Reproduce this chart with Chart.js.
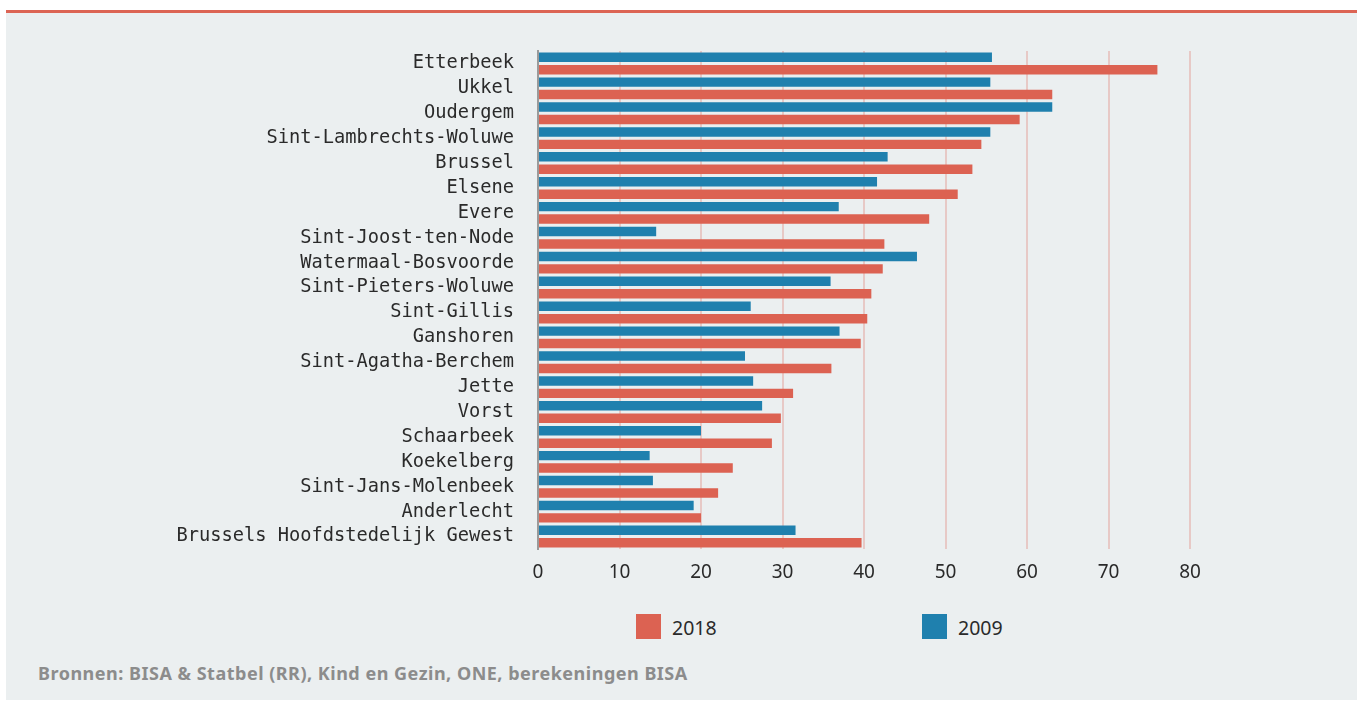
<!DOCTYPE html>
<html>
<head>
<meta charset="utf-8">
<script src="https://cdn.jsdelivr.net/npm/chart.js@4"></script>
<style>
  html, body { margin: 0; padding: 0; background: #ffffff; width: 1357px; height: 702px; overflow: hidden; }
  #panel { position: absolute; left: 6px; top: 10px; width: 1351px; height: 690px; background: #ebeff0; border-top: 3px solid #dc6454; box-sizing: border-box; }
  #wrap { position: absolute; left: 0px; top: 40px; width: 1357px; height: 549px; }
  .leg { position: absolute; top: 614px; height: 25px; font-family: "Noto Sans", sans-serif; font-size: 19.5px; color: #2a2a2a; line-height: 25px; }
  .leg span.box { position: absolute; left: 0; top: 0; width: 25px; height: 25px; }
  .leg span.txt { position: absolute; left: 36px; top: 1px; white-space: nowrap; }
  #src { position: absolute; left: 38px; top: 661px; font-family: "Noto Sans", sans-serif; font-weight: bold; font-size: 18px; letter-spacing: 0.5px; color: #8c8c8c; white-space: nowrap; }
</style>
</head>
<body>
<div id="panel"></div>
<div id="wrap"><canvas id="c" width="1357" height="549"></canvas></div>
<div class="leg" style="left:636px;"><span class="box" style="background:#dc6252"></span><span class="txt">2018</span></div>
<div class="leg" style="left:922px;"><span class="box" style="background:#1f80ae"></span><span class="txt">2009</span></div>
<div id="src">Bronnen: BISA &amp; Statbel (RR), Kind en Gezin, ONE, berekeningen BISA</div>
<script>
const categories = [
  "Etterbeek", "Ukkel", "Oudergem", "Sint-Lambrechts-Woluwe", "Brussel", "Elsene", "Evere",
  "Sint-Joost-ten-Node", "Watermaal-Bosvoorde", "Sint-Pieters-Woluwe", "Sint-Gillis", "Ganshoren",
  "Sint-Agatha-Berchem", "Jette", "Vorst", "Schaarbeek", "Koekelberg", "Sint-Jans-Molenbeek",
  "Anderlecht", "Brussels Hoofdstedelijk Gewest"
];
const values2009 = [55.7, 55.5, 63.1, 55.5, 42.9, 41.6, 36.9, 14.5, 46.5, 35.9, 26.1, 37.0, 25.4, 26.4, 27.5, 20.0, 13.7, 14.1, 19.1, 31.6];
const values2018 = [76.0, 63.1, 59.1, 54.4, 53.3, 51.5, 48.0, 42.5, 42.3, 40.9, 40.4, 39.6, 36.0, 31.3, 29.8, 28.7, 23.9, 22.1, 20.0, 39.7];
const xTicks = [0, 10, 20, 30, 40, 50, 60, 70, 80];
const seriesNames = ["2009", "2018"];

const AXIS_LEFT = 538;   // page x of value 0
const AXIS_RIGHT = 1190; // page x of value 80

new Chart(document.getElementById('c'), {
  type: 'bar',
  data: {
    labels: categories,
    datasets: [
      { label: seriesNames[0], data: values2009, backgroundColor: '#1f80ae', categoryPercentage: 1.0, barPercentage: 0.76 },
      { label: seriesNames[1], data: values2018, backgroundColor: '#dc6252', categoryPercentage: 1.0, barPercentage: 0.76 }
    ]
  },
  options: {
    indexAxis: 'y',
    responsive: false,
    animation: false,
    devicePixelRatio: 1,
    layout: { padding: { top: 11, right: 1357 - AXIS_RIGHT, bottom: 0, left: 0 } },
    plugins: { legend: { display: false }, tooltip: { enabled: false } },
    scales: {
      x: {
        type: 'linear',
        min: xTicks[0],
        max: xTicks[xTicks.length - 1],
        afterBuildTicks: (s) => { s.ticks = xTicks.map(v => ({ value: v })); },
        afterFit: (s) => { s.height = 40; s.paddingLeft = 0; s.paddingRight = 0; },
        grid: {
          drawTicks: false,
          color: (ctx) => ctx.tick && ctx.tick.value === 0 ? 'rgba(0,0,0,0)' : 'rgba(226,140,128,0.38)',
          lineWidth: 2
        },
        border: { display: false },
        ticks: { padding: 12, color: '#2a2a2a', font: { family: 'Noto Sans', size: 19 } }
      },
      y: {
        afterFit: (s) => { s.width = AXIS_LEFT; s.paddingTop = 0; s.paddingBottom = 0; },
        grid: { display: false, drawTicks: false },
        border: { display: true, color: '#9a9a9a', width: 2 },
        ticks: { padding: 24, color: '#2a2a2a', autoSkip: false, font: { family: 'DejaVu Sans Mono', size: 18.7 } }
      }
    }
  }
});
</script>
</body>
</html>
